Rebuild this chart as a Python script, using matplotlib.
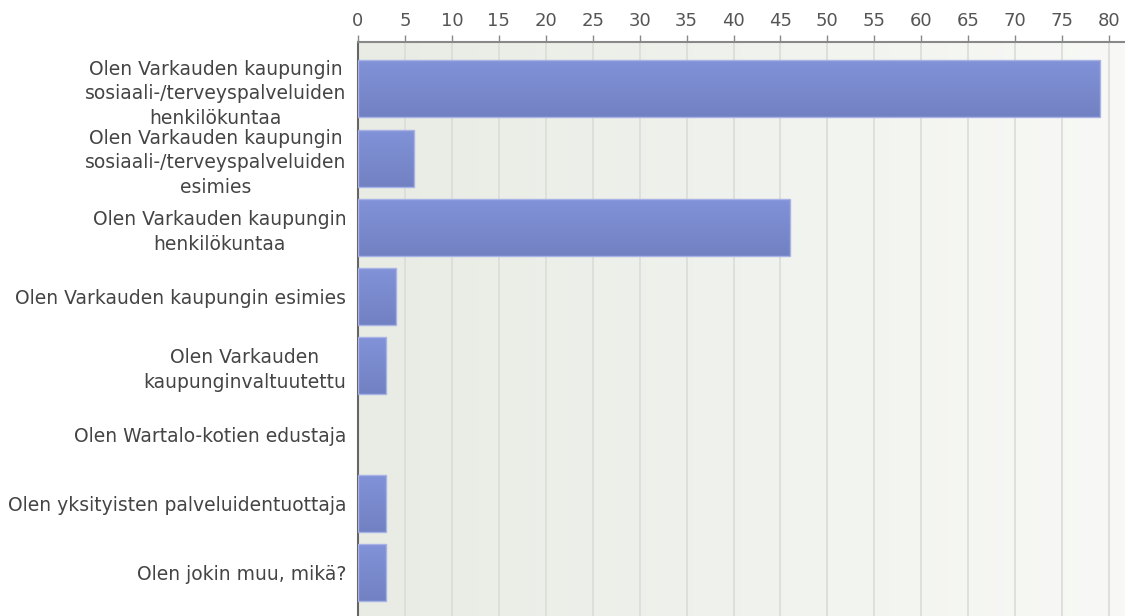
import numpy as np
import matplotlib
matplotlib.use("Agg")
import matplotlib.pyplot as plt
from matplotlib.colors import LinearSegmentedColormap

plt.rcParams['font.family'] = ['DejaVu Sans']

labels = [
    "Olen Varkauden kaupungin\nsosiaali-/terveyspalveluiden\nhenkilökuntaa",
    "Olen Varkauden kaupungin\nsosiaali-/terveyspalveluiden\nesimies",
    "Olen Varkauden kaupungin\nhenkilökuntaa",
    "Olen Varkauden kaupungin esimies",
    "Olen Varkauden\nkaupunginvaltuutettu",
    "Olen Wartalo-kotien edustaja",
    "Olen yksityisten palveluidentuottaja",
    "Olen jokin muu, mikä?",
]
values = [79, 6, 46, 4, 3, 0, 3, 3]
xticks = list(range(0, 85, 5))

fig = plt.figure(figsize=(11.25, 6.16), dpi=100)
ax = fig.add_axes([0.3182, 0.0, 0.6818, 0.9318])

y = np.arange(len(values))

# background gradient, greenish grey on the left fading to white-ish
bg = LinearSegmentedColormap.from_list("bg", ["#e8ece4", "#f8f9f6"])
ax.imshow(np.linspace(0, 1, 256).reshape(1, -1), cmap=bg, aspect='auto',
          extent=[0, 1, 0, 1], transform=ax.transAxes, zorder=0)

for xt in xticks[1:]:
    ax.axvline(xt, color="#dadcd8", lw=1.2, zorder=1)

# bars with vertical gradient
bar_cmap = LinearSegmentedColormap.from_list("bar", ["#8292d8", "#7181c2"])
grad = np.linspace(0, 1, 64).reshape(-1, 1)
h = 0.825
for yi, v in zip(y, values):
    if v <= 0:
        continue
    ax.imshow(grad, cmap=bar_cmap, aspect='auto',
              extent=[0, v, yi + h / 2, yi - h / 2], zorder=2)
    ax.barh(yi, v, height=h, facecolor='none', edgecolor="#a9b2e4", lw=1, zorder=3)

ax.set_xlim(0, 81.7)
ax.set_ylim(7.63, -0.68)

ax.xaxis.tick_top()
ax.set_xticks(xticks)
ax.tick_params(axis='x', direction='out', length=5, width=1, color="#888888",
               labelcolor="#555555", labelsize=13, pad=4)
ax.set_yticks(y)
ax.set_yticklabels(labels, fontsize=13.5, color="#444444",
                   multialignment='center', linespacing=1.37)
ax.tick_params(axis='y', length=0, pad=8.5)

for s in ['right', 'bottom']:
    ax.spines[s].set_visible(False)
ax.spines['top'].set_color("#888888")
ax.spines['top'].set_linewidth(1.5)
ax.spines['left'].set_color("#666666")
ax.spines['left'].set_linewidth(1.5)

fig.savefig("out.png", dpi=100)
